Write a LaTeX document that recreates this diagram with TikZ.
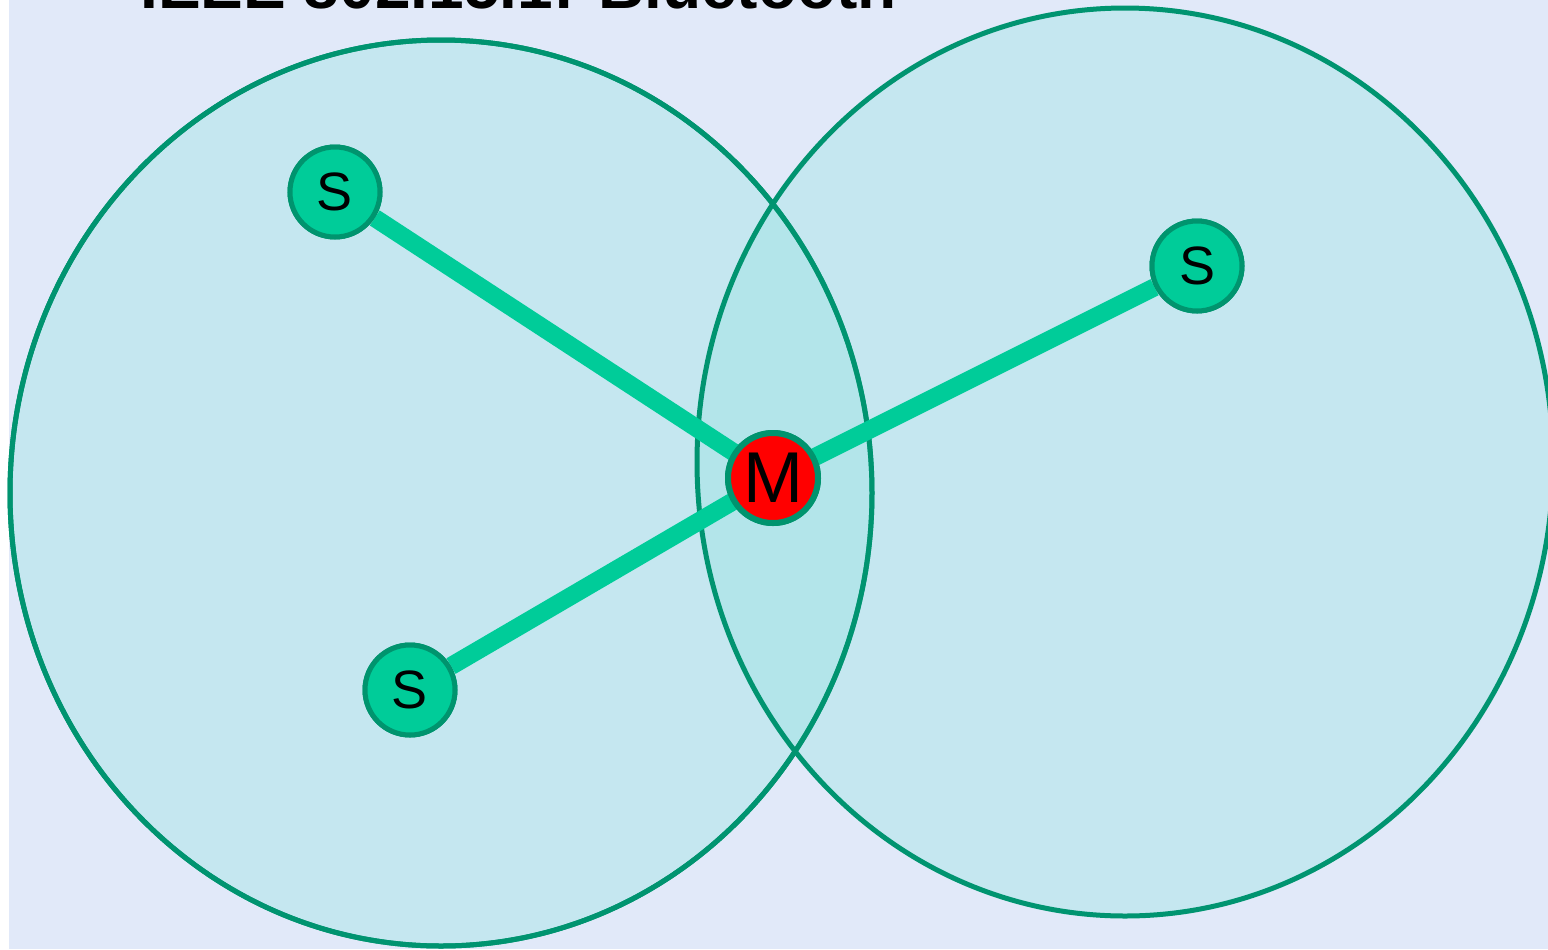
\documentclass[tikz,border=0pt]{standalone}
\usepackage{fontspec}
\setmainfont{Liberation Sans}
\definecolor{bg}{HTML}{E1E9F9}
\definecolor{ring}{HTML}{009470}
\definecolor{cellfill}{HTML}{8FE3DE}
\definecolor{node}{HTML}{00CC99}
\definecolor{nodeborder}{HTML}{00946E}
\definecolor{master}{HTML}{FF0000}
\begin{document}
\begin{tikzpicture}[x=0.5pt,y=-0.5pt,
  cell/.style={draw=ring,line width=2.5pt,fill=cellfill,fill opacity=0.33},
  slave/.style={circle,fill=node,draw=nodeborder,line width=2.5pt,minimum size=45pt,inner sep=0pt,font=\fontsize{27}{29}\selectfont},
  mastern/.style={circle,fill=master,draw=nodeborder,line width=3pt,minimum size=45pt,inner sep=0pt,font=\fontsize{36}{38}\selectfont},
  link/.style={draw=node,line width=9pt}]
\useasboundingbox (0,0) rectangle (1548,949);
\clip (0,0) rectangle (1548,949);
\fill[white] (0,0) rectangle (1548,949);
\fill[bg] (9,0) rectangle (1548,949);
\node[anchor=base west,inner sep=0pt,font=\fontsize{32}{34}\selectfont\bfseries] (title) at (140,8) {IEEE 802.15.1: Bluetooth};
\path[cell] (441,493) ellipse [x radius=431,y radius=453];
\path[cell] (1125,462) ellipse [x radius=428,y radius=454];
\draw[draw=ring,line width=2.5pt] (441,493) ellipse [x radius=431,y radius=453];
\node[mastern] (m) at (773,478) {M};
\node[slave] (s1) at (335,192) {S};
\node[slave] (s2) at (1197,266) {S};
\node[slave] (s3) at (410,690) {S};
\draw[link] (s1) -- (m.center);
\draw[link] (s2) -- (m.center);
\draw[link] (s3) -- (m.center);
\node[mastern] at (m.center) {M};
\node[slave] at (s1.center) {S};
\node[slave] at (s2.center) {S};
\node[slave] at (s3.center) {S};
\end{tikzpicture}
\end{document}
